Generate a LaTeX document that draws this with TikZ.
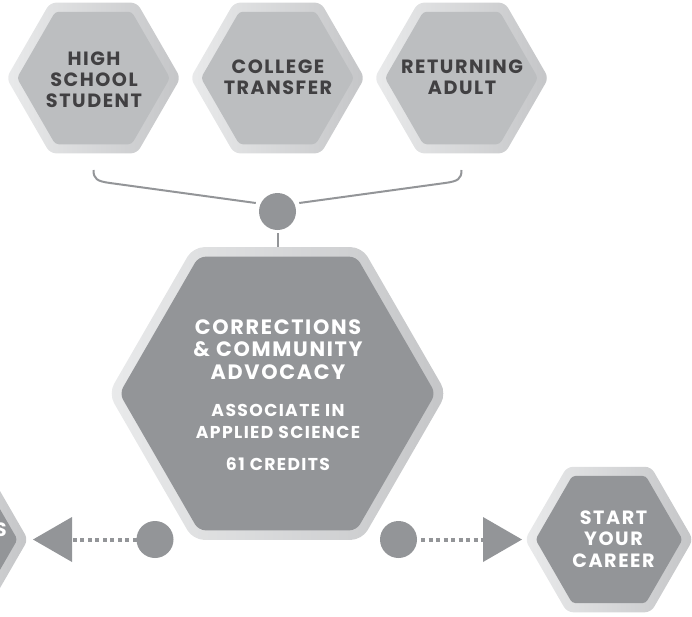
\documentclass[tikz,border=0pt]{standalone}
\usepackage{fontspec}
\setmainfont{Poppins}
\newfontfamily\hexfont{Poppins}[LetterSpace=8]
\usetikzlibrary{shapes.geometric,arrows.meta,calc}
\definecolor{ringL}{HTML}{E9EAEB}
\definecolor{ringR}{HTML}{C5C6C8}
\definecolor{lightfill}{HTML}{BCBEC0}
\definecolor{darkfill}{HTML}{939598}
\definecolor{textdark}{HTML}{414042}
\definecolor{conn}{HTML}{939598}
\begin{document}
\begin{tikzpicture}[x=1pt,y=-1pt,
  hexbase/.style={regular polygon, regular polygon sides=6, inner sep=0pt, outer sep=0pt, draw=none},
  ringtop/.style={hexbase, minimum size=174pt, rounded corners=6pt, left color=ringL, right color=ringR},
  innertop/.style={hexbase, minimum size=153pt, rounded corners=3.5pt, fill=lightfill},
  ringside/.style={hexbase, minimum size=168pt, rounded corners=6pt, left color=ringL, right color=ringR},
  innerside/.style={hexbase, minimum size=147pt, rounded corners=3.5pt, fill=darkfill},
  ringbig/.style={hexbase, minimum size=338pt, rounded corners=11pt, left color=ringL, right color=ringR},
  innerbig/.style={hexbase, minimum size=316pt, rounded corners=7pt, fill=darkfill},
  toptext/.style={inner sep=0pt, align=center, text=textdark, font=\hexfont\bfseries\fontsize{19.2}{21}\selectfont},
  sidetext/.style={inner sep=0pt, align=center, text=white, font=\hexfont\bfseries\fontsize{19.2}{21.5}\selectfont},
  titletext/.style={inner sep=0pt, align=center, text=white, font=\hexfont\bfseries\fontsize{20.8}{22.5}\selectfont},
  subtext/.style={inner sep=0pt, align=center, text=white, font=\hexfont\bfseries\fontsize{17.2}{22}\selectfont},
  dot/.style={circle, fill=conn, minimum size=37pt, inner sep=0pt, outer sep=0pt},
  connline/.style={draw=conn, line width=2pt},
  arrowdots/.style={draw=conn, line width=4pt, dash pattern=on 4pt off 3.5pt,
     -{Triangle[length=39pt,width=45pt,line width=0pt]}}
]
\useasboundingbox (0,0) rectangle (692,616);

% top hexagons
\node[ringtop] (hs) at (93.5,78) {};
\node[innertop] (hsin) at (hs) {};
\node[toptext] (hst) at (94,79.5) {HIGH\\SCHOOL\\STUDENT};

\node[ringtop] (ct) at (277.5,78) {};
\node[innertop] (ctin) at (ct) {};
\node[toptext] (ctt) at (278,77.5) {COLLEGE\\TRANSFER};

\node[ringtop] (ra) at (461.5,78) {};
\node[innertop] (rain) at (ra) {};
\node[toptext] (rat) at (462,77.5) {RETURNING\\ADULT};

% central hexagon
\node[ringbig] (cc) at (277.5,393.5) {};
\node[innerbig] (ccin) at (cc) {};
\node[titletext] (cct) at (278,349.5) {CORRECTIONS\\\& COMMUNITY\\ADVOCACY};
\node[subtext] (ccs) at (278,421) {ASSOCIATE IN\\APPLIED SCIENCE};
\node[subtext] (ccc) at (278,464) {61 CREDITS};

% side hexagons
\node[ringside] (lh) at (-56,539.5) {};
\node[innerside] (lhin) at (lh) {};
\node[sidetext, anchor=east] (lht) at (7,529.5) {S};

\node[ringside] (sc) at (609,539.5) {};
\node[innerside] (scin) at (sc) {};
\node[sidetext] (sct) at (613.5,539) {START\\YOUR\\CAREER};

% dots
\node[dot] (dtop) at (277.5,211.5) {};
\node[dot] (dl) at (155,539.5) {};
\node[dot] (dr) at (398.5,539.5) {};

% bracket connector
\coordinate (bl) at (93.5,170);
\coordinate (br) at (461.5,170);
\draw[connline, shorten >=5pt] (bl) .. controls (93.5,179) and (97,181.2) .. (110,183) -- (dtop.155);
\draw[connline, shorten >=5pt] (br) .. controls (461.5,179) and (458,181.2) .. (445,183) -- (dtop.25);
\draw[connline, shorten <=3pt] (dtop.south) -- (cc.north);

% dotted arrows
\draw[arrowdots, shorten >=5pt] (dl.west) -- (lh.east);
\draw[arrowdots, shorten >=3pt, shorten <=4pt] (dr.east) -- (sc.west);
\end{tikzpicture}
\end{document}
